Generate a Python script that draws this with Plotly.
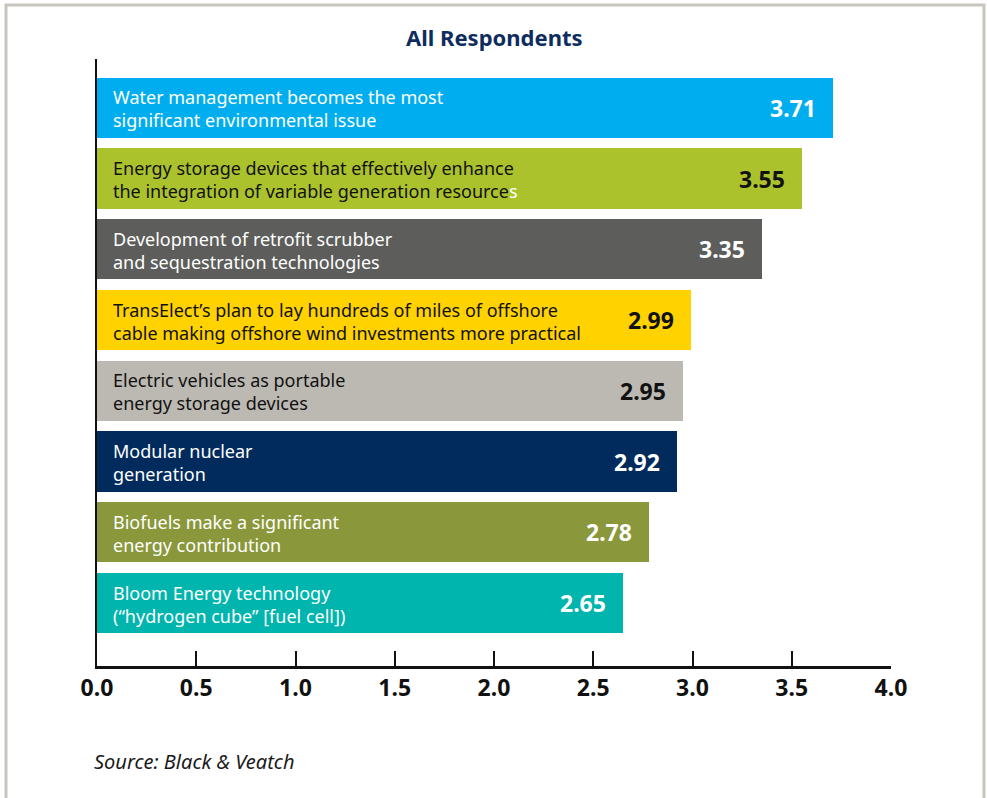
import plotly.graph_objects as go

labels = [
    "Water management becomes the most<br>significant environmental issue",
    "Energy storage devices that effectively enhance<br>the integration of variable generation resource<span style='color:#ffffff'>s</span>",
    "Development of retrofit scrubber<br>and sequestration technologies",
    "TransElect\u2019s plan to lay hundreds of miles of offshore<br>cable making offshore wind investments more practical",
    "Electric vehicles as portable<br>energy storage devices",
    "Modular nuclear<br>generation",
    "Biofuels make a significant<br>energy contribution",
    "Bloom Energy technology<br>(\u201chydrogen cube\u201d [fuel cell])",
]
values = [3.71, 3.55, 3.35, 2.99, 2.95, 2.92, 2.78, 2.65]
bar_colors = ["#00aeef", "#abc22d", "#5d5e5b", "#ffd200",
              "#bcb9b2", "#002b5c", "#8a983b", "#00b5ad"]
text_colors = ["#ffffff", "#111111", "#ffffff", "#111111",
               "#111111", "#ffffff", "#ffffff", "#ffffff"]
tick_vals = [0.0, 0.5, 1.0, 1.5, 2.0, 2.5, 3.0, 3.5, 4.0]

FONT = "Noto Sans, Open Sans, sans-serif"
pos = list(range(len(values)))

fig = go.Figure()
fig.add_trace(go.Bar(
    x=values, y=pos, orientation="h",
    marker=dict(color=bar_colors, line=dict(width=0)),
    width=0.85, hoverinfo="skip",
))

annotations = []
for i, (lab, v, tc) in enumerate(zip(labels, values, text_colors)):
    annotations.append(dict(
        x=0, y=i, xref="x", yref="y", text=lab, showarrow=False,
        xanchor="left", yanchor="middle", align="left", xshift=14, yshift=-1,
        font=dict(family=FONT, size=18, color=tc),
    ))
    annotations.append(dict(
        x=v, y=i, xref="x", yref="y", text=f"<b>{v:.2f}</b>", showarrow=False,
        xanchor="right", yanchor="middle", xshift=-15,
        font=dict(family=FONT, size=23, color=tc),
    ))

annotations.append(dict(
    x=0.5, y=1.037, xref="paper", yref="paper", text="<b>All Respondents</b>",
    showarrow=False, xanchor="center", yanchor="middle",
    font=dict(family=FONT, size=22, color="#0e2d5e"),
))
annotations.append(dict(
    x=-0.006, y=-0.158, xref="paper", yref="paper", text="<i>Source: Black & Veatch</i>",
    showarrow=False, xanchor="left", yanchor="middle",
    font=dict(family=FONT, size=20, color="#1a1a1a"),
))

fig.update_layout(
    width=987, height=798,
    margin=dict(l=97, r=96, t=59, b=132),
    paper_bgcolor="#ffffff", plot_bgcolor="#ffffff",
    showlegend=False,
    bargap=0,
    annotations=annotations,
    xaxis=dict(
        range=[0, 4.0], tickvals=tick_vals,
        ticktext=[f"<b>{t:.1f}</b>" for t in tick_vals],
        ticks="inside", ticklen=15, tickwidth=2, tickcolor="#111111",
        showline=True, linecolor="#111111", linewidth=2.5,
        showgrid=False, zeroline=False,
        tickfont=dict(family=FONT, size=23, color="#111111"),
        fixedrange=True,
    ),
    yaxis=dict(
        range=[7.89, -0.69], showticklabels=False, ticks="",
        showline=True, linecolor="#111111", linewidth=2,
        showgrid=False, zeroline=False, fixedrange=True,
    ),
    shapes=[dict(
        type="rect", xref="paper", yref="paper",
        x0=-0.1146, x1=1.1171, y0=-0.23, y1=1.089,
        line=dict(color="#c8c5bf", width=3), layer="below",
    )],
)

fig.write_html("out.html", config={"displayModeBar": False},
               post_script="document.body.style.margin='0';")
